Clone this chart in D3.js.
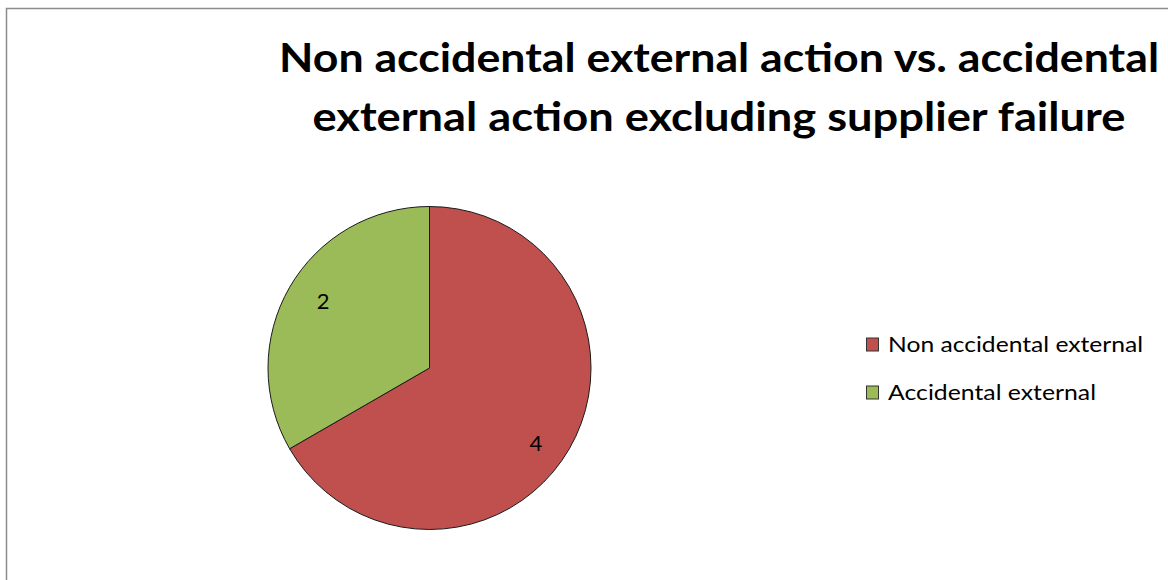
<!DOCTYPE html>
<html><head><meta charset="utf-8">
<script src="https://cdn.jsdelivr.net/npm/d3@7/dist/d3.min.js"></script>
<style>html,body{margin:0;padding:0;background:#fff;}svg{display:block;}</style>
</head><body>
<svg id="c" width="1168" height="580"></svg>
<script>
const categories = ["Non accidental external", "Accidental external"];
const values = [4, 2];
const colors = ["#C0504D", "#9BBB59"];
const titleLines = ["Non accidental external action vs. accidental", "external action excluding supplier failure"];

const svg = d3.select("#c");
const font = "Lato, 'Open Sans', sans-serif";

svg.append("rect").attr("x", 6.5).attr("y", 8.5).attr("width", 1200).attr("height", 600)
  .attr("fill", "#fff").attr("stroke", "#8c8c8c").attr("stroke-width", 1.5);

// Title
const titleW = [880, 813];
const titleY = [72, 131];
titleLines.forEach((t, i) => {
  svg.append("text").attr("x", 719).attr("y", titleY[i]).attr("text-anchor", "middle")
    .attr("font-family", font).attr("font-weight", "bold").attr("font-size", 40)
    .attr("textLength", titleW[i]).attr("lengthAdjust", "spacingAndGlyphs")
    .attr("fill", "#000").text(t);
});

// Pie
const cx = 429.5, cy = 368, R = 161.5;
const pie = d3.pie().sort(null).value(d => d)(values);
const arc = d3.arc().innerRadius(0).outerRadius(R);
const labelArc = d3.arc().innerRadius(R * 0.8).outerRadius(R * 0.8);
const g = svg.append("g").attr("transform", `translate(${cx},${cy})`);
g.selectAll("path").data(pie).join("path")
  .attr("d", arc).attr("fill", (d, i) => colors[i])
  .attr("stroke", "#1a1a1a").attr("stroke-width", 1);
g.selectAll("text").data(pie).join("text")
  .attr("transform", d => {
    const [x, y] = labelArc.centroid(d);
    return `translate(${x * 0.95},${y * 1.1 + 4})`;
  })
  .attr("text-anchor", "middle").attr("dy", "0.35em")
  .attr("font-family", font).attr("font-size", 22).attr("fill", "#000")
  .text(d => d.data);

// Legend
const legY = [344.5, 392.5];
const legW = [255, 208];
categories.forEach((c, i) => {
  svg.append("rect").attr("x", 866.5).attr("y", legY[i] - 6.5).attr("width", 12).attr("height", 13)
    .attr("fill", colors[i]).attr("stroke", "#333").attr("stroke-width", 1);
  svg.append("text").attr("x", 888).attr("y", legY[i] + 7).attr("font-family", font)
    .attr("font-size", 21).attr("fill", "#000")
    .attr("textLength", legW[i]).attr("lengthAdjust", "spacingAndGlyphs").text(c);
});
</script>
</body></html>
